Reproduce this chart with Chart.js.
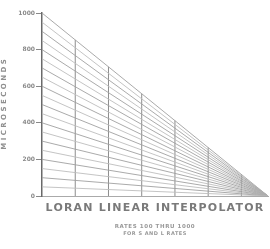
<!DOCTYPE html>
<html>
<head>
<meta charset="utf-8">
<script src="https://cdn.jsdelivr.net/npm/chart.js@4/dist/chart.umd.min.js"></script>
<style>
  html, body { margin: 0; padding: 0; background: #fff; }
  #wrap { position: relative; width: 270px; height: 249px; overflow: hidden; }
  #chart { position: absolute; left: 0; top: 0; }
  .txt { position: absolute; left: 42px; width: 226px; text-align: center; color: #7a7a7a; font-family: "DejaVu Sans", sans-serif; white-space: nowrap; }
  #title { top: 201px; font-size: 11px; letter-spacing: 1.2px; font-weight: bold; }
  #sub1 { top: 223px; font-size: 5.5px; letter-spacing: 0.6px; font-weight: bold; color: #999; }
  #sub2 { top: 230px; font-size: 5px; letter-spacing: 0.5px; font-weight: bold; color: #999; }
</style>
</head>
<body>
<div id="wrap">
  <canvas id="chart" width="270" height="249"></canvas>
  <div class="txt" id="title">LORAN LINEAR INTERPOLATOR</div>
  <div class="txt" id="sub1">RATES 100 THRU 1000</div>
  <div class="txt" id="sub2">FOR S AND L RATES</div>
</div>
<script>
// values on the left scale where each diagonal starts (microseconds)
let diagonalValues = [50, 100, 150, 200, 250, 300, 350, 400, 450, 500,
                      550, 600, 650, 700, 750, 800, 850, 900, 950, 1000];
// positions of the vertical divider lines
let verticalPositions = [1, 2, 3, 4, 5, 6];
// all diagonals meet the zero line here
let convergeX = 6.8;
let yTicks = [0, 200, 400, 600, 800, 1000];
let topValue = 1000;

function buildDatasets() {
  const sets = [];
  diagonalValues.forEach(v => {
    sets.push({
      data: [{ x: 0, y: v }, { x: convergeX, y: 0 }],
      borderColor: v % 100 === 0 ? '#a0a0a0' : '#bdbdbd',
      borderWidth: 0.9
    });
  });
  verticalPositions.forEach(p => {
    sets.push({
      data: [{ x: p, y: 0 }, { x: p, y: topValue * (1 - p / convergeX) }],
      borderColor: '#8c8c8c',
      borderWidth: 1
    });
  });
  return sets;
}

window.addEventListener('load', function() {
  new Chart(document.getElementById('chart'), {
    type: 'scatter',
    data: { datasets: buildDatasets() },
    options: {
      responsive: false,
      animation: false,
      showLine: true,
      elements: { point: { radius: 0, hoverRadius: 0 }, line: { tension: 0 } },
      layout: { padding: { top: 13, right: 2, bottom: 49, left: 0 } },
      plugins: { legend: { display: false }, tooltip: { enabled: false } },
      scales: {
        x: {
          type: 'linear',
          min: 0,
          max: convergeX,
          ticks: { display: false },
          grid: { display: false },
          border: { display: true, color: '#aaa', width: 1 },
          afterFit: scale => { scale.height = 4; }
        },
        y: {
          min: 0,
          max: topValue,
          afterBuildTicks: scale => { scale.ticks = yTicks.map(v => ({ value: v })); },
          ticks: {
            color: '#8a8a8a',
            font: { size: 6, family: 'DejaVu Sans', weight: 'bold' },
            padding: 1,
            callback: v => String(v)
          },
          grid: { drawOnChartArea: false, drawTicks: true, tickLength: 6, color: '#888' },
          border: { display: true, color: '#6a6a6a', width: 1.5 },
          title: {
            display: true,
            text: 'M I C R O S E C O N D S',
            color: '#8f8f8f',
            font: { size: 7, family: 'DejaVu Sans', weight: 'bold' },
            padding: 0
          },
          afterFit: scale => { scale.width = 42; }
        }
      }
    }
  });
});
</script>
</body>
</html>
